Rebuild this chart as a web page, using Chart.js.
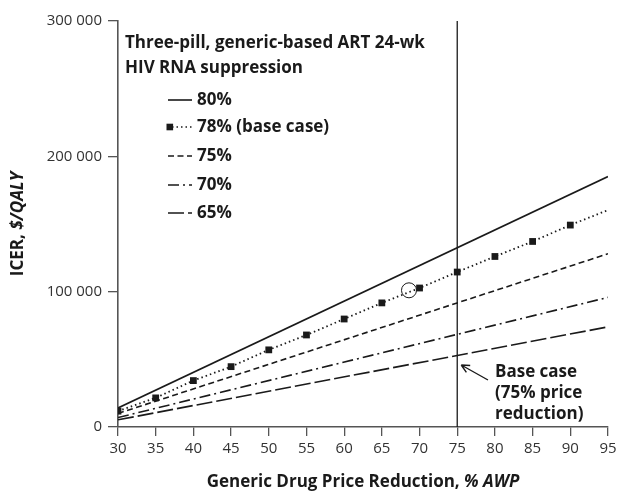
<!DOCTYPE html>
<html>
<head>
<meta charset="utf-8">
<script src="https://cdn.jsdelivr.net/npm/chart.js@4.4.1/dist/chart.umd.min.js"></script>
<style>
  html, body { margin: 0; padding: 0; background: #fff; }
  #wrap { width: 617px; height: 493px; }
</style>
</head>
<body>
<div id="wrap"><canvas id="icerChart" width="617" height="493"></canvas></div>
<script>
/* ICER vs generic drug price reduction - one line per 24-wk suppression rate */

// straight lines are read at both ends of the x range
const lineX  = [30, 95];
const icer80 = [14100, 185100];
const icer75 = [10000, 128000];
const icer70 = [7000, 95800];
const icer65 = [5300, 74000];

// base case (78%) series, markers every 5 points, none at 95
const baseCaseX    = [30, 35, 40, 45, 50, 55, 60, 65, 70, 75, 80, 85, 90, 95];
const baseCaseIcer = [11700, 21500, 34300, 44600, 57000, 68000, 79800, 91700, 102700, 114500, 126000, 137100, 149200, 160300];
const markerCount  = 13;

const circledPoint = [{ x: 68.6, y: 101000 }];
const basePriceCut = 75;

const xMin = 30, xMax = 95, xStep = 5;
const yTicks = [0, 100000, 200000, 300000];

const legendTitle  = ['Three-pill, generic-based ART 24-wk', 'HIV RNA suppression'];
const legendLabels = ['80%', '78% (base case)', '75%', '70%', '65%'];
const noteLines    = ['Base case', '(75% price', 'reduction)'];

const FONT = "'Open Sans', 'DejaVu Sans', sans-serif";
const INK  = '#1a1a1a';
const AXIS = '#555';

const toPoints = (xs, ys) => xs.map((x, i) => ({ x, y: ys[i] }));
const fmtThousands = v => String(v).replace(/\B(?=(\d{3})+(?!\d))/g, ' ');

// dataset styles, also reused by the hand drawn legend
const styles = [
  { borderDash: [] },
  { borderDash: [1.5, 3], marker: true },
  { borderDash: [6, 3.5] },
  { borderDash: [11, 4, 2, 4] },
  { borderDash: [16, 4] },
];

function lineSet(label, data, style, extra) {
  return Object.assign({
    label,
    data,
    borderColor: INK,
    backgroundColor: INK,
    borderWidth: 1.6,
    borderDash: style.borderDash,
    pointRadius: 0,
    tension: 0,
    fill: false,
  }, extra || {});
}

// draws text made of [text, italic] pieces starting at x
function drawRich(ctx, parts, x, y, size) {
  parts.forEach(([txt, italic]) => {
    ctx.font = `${italic ? 'italic ' : ''}bold ${size}px ${FONT}`;
    ctx.fillText(txt, x, y);
    x += ctx.measureText(txt).width;
  });
}
function richWidth(ctx, parts, size) {
  return parts.reduce((w, [txt, italic]) => {
    ctx.font = `${italic ? 'italic ' : ''}bold ${size}px ${FONT}`;
    return w + ctx.measureText(txt).width;
  }, 0);
}

const overlay = {
  id: 'overlay',
  afterDraw(chart) {
    const { ctx, chartArea, scales: { x } } = chart;
    ctx.save();
    ctx.fillStyle = INK;
    ctx.strokeStyle = INK;
    ctx.textBaseline = 'middle';
    ctx.textAlign = 'left';

    // legend block
    ctx.font = `bold 17px ${FONT}`;
    ctx.fillText(legendTitle[0], 125, 43);
    ctx.fillText(legendTitle[1], 125, 68);
    const rowY = [100, 127, 156, 185, 213];
    legendLabels.forEach((lab, i) => {
      const st = styles[i];
      ctx.lineWidth = 1.6;
      ctx.setLineDash(st.borderDash);
      ctx.beginPath();
      ctx.moveTo(st.marker ? 172 : 168, rowY[i]);
      ctx.lineTo(192, rowY[i]);
      ctx.stroke();
      ctx.setLineDash([]);
      if (st.marker) ctx.fillRect(166.5, rowY[i] - 3.3, 6.6, 6.6);
      ctx.font = `bold 17px ${FONT}`;
      ctx.fillText(lab, 197, rowY[i]);
    });

    // base case note with arrow
    const tipX = x.getPixelForValue(basePriceCut) + 4, tipY = 365;
    const tailX = 488, tailY = 380;
    ctx.lineWidth = 1.4;
    ctx.beginPath();
    ctx.moveTo(tailX, tailY);
    ctx.lineTo(tipX, tipY);
    const ang = Math.atan2(tailY - tipY, tailX - tipX);
    [0.45, -0.45].forEach(d => {
      ctx.moveTo(tipX, tipY);
      ctx.lineTo(tipX + 9 * Math.cos(ang + d), tipY + 9 * Math.sin(ang + d));
    });
    ctx.stroke();
    ctx.font = `bold 17px ${FONT}`;
    noteLines.forEach((t, i) => ctx.fillText(t, 495, 372 + i * 21));

    // axis titles (with italic units)
    const xt = [['Generic Drug Price Reduction, ', false], ['% AWP', true]];
    const xw = richWidth(ctx, xt, 17);
    drawRich(ctx, xt, (chartArea.left + chartArea.right) / 2 - xw / 2, 482, 17);

    const yt = [['ICER, ', false], ['$/QALY', true]];
    const yw = richWidth(ctx, yt, 17);
    ctx.translate(18, (chartArea.top + chartArea.bottom) / 2);
    ctx.rotate(-Math.PI / 2);
    drawRich(ctx, yt, -yw / 2, 0, 17);
    ctx.restore();
  }
};

new Chart(document.getElementById('icerChart'), {
  type: 'line',
  data: {
    datasets: [
      lineSet('80%', toPoints(lineX, icer80), styles[0]),
      lineSet('78% (base case)', toPoints(baseCaseX, baseCaseIcer), styles[1], {
        borderWidth: 1.8,
        pointStyle: 'rect',
        pointRadius: c => (c.dataIndex < markerCount ? 4.8 : 0),
        pointBorderWidth: 0,
      }),
      lineSet('75%', toPoints(lineX, icer75), styles[2]),
      lineSet('70%', toPoints(lineX, icer70), styles[3]),
      lineSet('65%', toPoints(lineX, icer65), styles[4]),
      lineSet('base case price cut', [{ x: basePriceCut, y: yTicks[0] }, { x: basePriceCut, y: yTicks[yTicks.length - 1] }], styles[0], { borderWidth: 1.3 }),
      {
        label: 'circled',
        data: circledPoint,
        showLine: false,
        pointStyle: 'circle',
        pointRadius: 7.5,
        pointBorderWidth: 1,
        pointBorderColor: INK,
        pointBackgroundColor: 'rgba(0,0,0,0)',
      },
    ],
  },
  options: {
    responsive: false,
    animation: false,
    layout: { padding: { top: 21, right: 9, bottom: 0, left: 0 } },
    plugins: { legend: { display: false }, tooltip: { enabled: false } },
    scales: {
      x: {
        type: 'linear',
        min: xMin,
        max: xMax,
        ticks: { stepSize: xStep, color: '#333', font: { family: FONT, size: 15 }, padding: 4, maxRotation: 0, autoSkip: false },
        grid: { drawOnChartArea: false, tickLength: 9, color: AXIS, lineWidth: 1.3 },
        border: { color: AXIS, width: 1.6 },
        afterFit(s) { s.height = 66; s.paddingLeft = 0; s.paddingRight = 9; },
      },
      y: {
        type: 'linear',
        min: yTicks[0],
        max: yTicks[yTicks.length - 1],
        afterBuildTicks(s) { s.ticks = yTicks.map(v => ({ value: v })); },
        ticks: { callback: fmtThousands, color: '#333', font: { family: FONT, size: 15 }, padding: 6 },
        grid: { drawOnChartArea: false, tickLength: 10, color: AXIS, lineWidth: 1.3 },
        border: { color: AXIS, width: 1.6 },
        afterFit(s) { s.width = 118; s.paddingTop = 0; s.paddingBottom = 0; },
      },
    },
  },
  plugins: [overlay],
});
</script>
</body>
</html>
